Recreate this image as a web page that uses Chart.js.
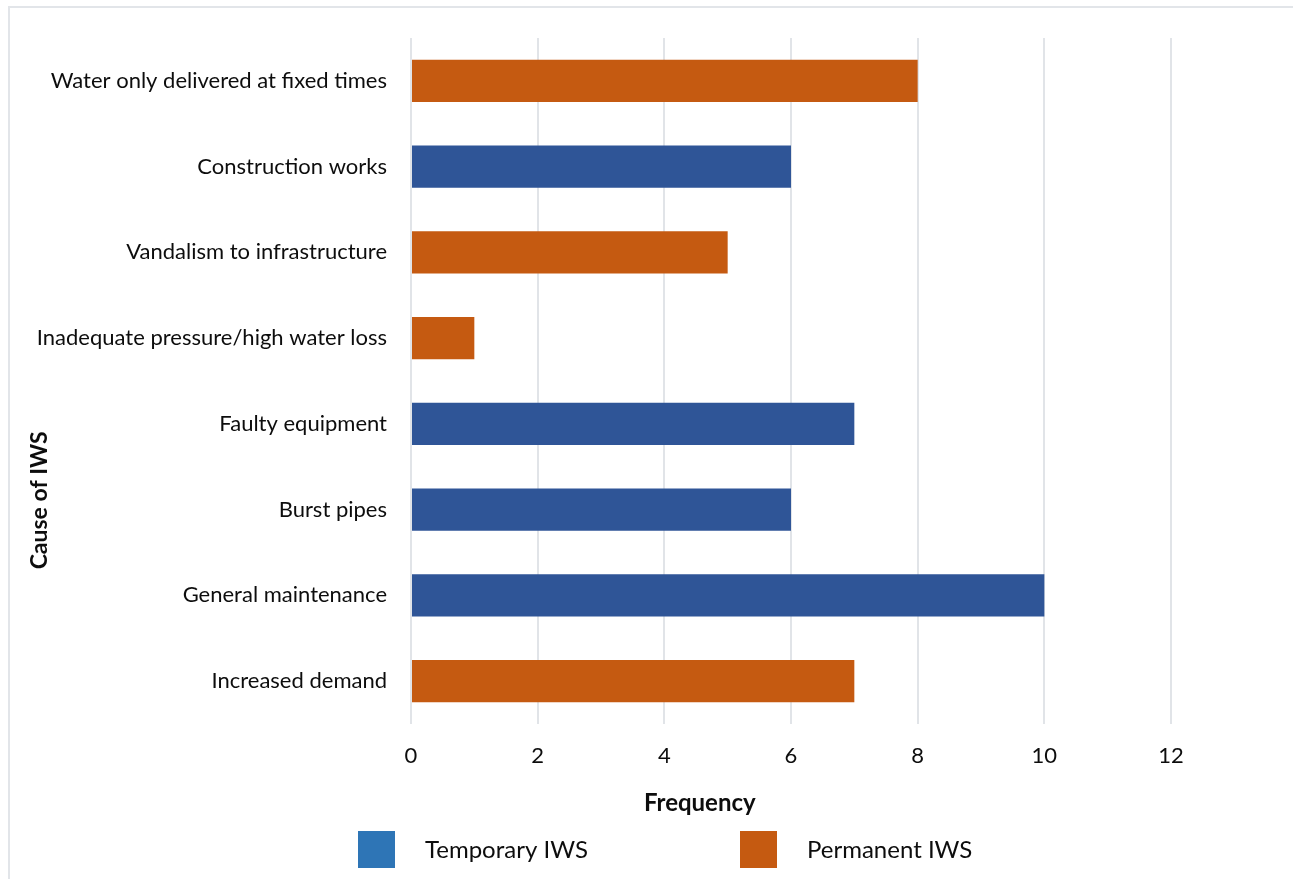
<!DOCTYPE html>
<html>
<head>
<meta charset="utf-8">
<script src="https://cdn.jsdelivr.net/npm/chart.js@4/dist/chart.umd.min.js"></script>
<style>
  html, body { margin: 0; padding: 0; background: #fff; overflow: hidden; }
  #frame { position: absolute; left: 8px; top: 6px; width: 1320px; height: 900px; border: 2px solid #e2e5e9; }
  #wrap { position: absolute; left: 0; top: 0; width: 1293px; height: 879px; }
</style>
</head>
<body>
<div id="frame"></div>
<div id="wrap"><canvas id="chart"></canvas></div>
<script>
const causes = [
  'Water only delivered at fixed times',
  'Construction works',
  'Vandalism to infrastructure',
  'Inadequate pressure/high water loss',
  'Faulty equipment',
  'Burst pipes',
  'General maintenance',
  'Increased demand'
]
const temporaryIWS = [null, 6, null, null, 7, 6, 10, null]
const permanentIWS = [8, null, 5, 1, null, null, null, 7]
const xTicks = [0, 2, 4, 6, 8, 10, 12]

const FONT = 'Lato, "Open Sans", sans-serif'
const TEXT = '#0d0d0d'

// legend swatches are a lighter blue than the bars themselves
const legendItems = [
  { text: 'Temporary IWS', color: '#2e75b6' },
  { text: 'Permanent IWS', color: '#c55a11' }
]

const extras = {
  id: 'extras',
  afterDraw(chart) {
    const ctx = chart.ctx
    const area = chart.chartArea
    ctx.save()
    ctx.fillStyle = TEXT
    ctx.textAlign = 'center'
    ctx.textBaseline = 'middle'

    // x axis title, sits left of the plot centre
    ctx.font = 'bold 24px ' + FONT
    ctx.fillText('Frequency', area.left + (area.right - area.left) * 0.38, area.bottom + 79)

    // y axis title, rotated
    ctx.font = 'bold 23px ' + FONT
    ctx.translate(40, area.top + (area.bottom - area.top) * 0.674)
    ctx.rotate(-Math.PI / 2)
    ctx.fillText('Cause of IWS', 0, 0)
    ctx.restore()

    // legend
    ctx.save()
    const box = 37
    const top = area.bottom + 107
    let x = 358
    ctx.font = '24px ' + FONT
    ctx.textBaseline = 'middle'
    legendItems.forEach(item => {
      ctx.fillStyle = item.color
      ctx.fillRect(x, top, box, box)
      ctx.fillStyle = TEXT
      ctx.fillText(item.text, x + box + 30, top + box / 2 + 1)
      x += 382
    })
    ctx.restore()
  }
}

const ctx = document.getElementById('chart').getContext('2d')
new Chart(ctx, {
  type: 'bar',
  data: {
    labels: causes,
    datasets: [
      {
        label: 'Temporary IWS',
        data: temporaryIWS,
        backgroundColor: '#2f5597',
        grouped: false,
        barPercentage: 0.49,
        categoryPercentage: 1
      },
      {
        label: 'Permanent IWS',
        data: permanentIWS,
        backgroundColor: '#c55a11',
        grouped: false,
        barPercentage: 0.49,
        categoryPercentage: 1
      }
    ]
  },
  options: {
    indexAxis: 'y',
    responsive: true,
    maintainAspectRatio: false,
    animation: false,
    layout: { padding: { left: 0, top: 38, right: 122, bottom: 59 } },
    plugins: {
      legend: { display: false },
      tooltip: { enabled: false }
    },
    scales: {
      x: {
        min: 0,
        max: 12,
        afterBuildTicks: axis => { axis.ticks = xTicks.map(v => ({ value: v })) },
        afterFit: axis => { axis.height = 96 },
        grid: { color: '#e1e4e8', lineWidth: 2, drawTicks: false },
        border: { display: false },
        ticks: { padding: 19, color: TEXT, font: { family: FONT, size: 22 } }
      },
      y: {
        afterFit: axis => { axis.width = 411 },
        grid: { display: false, drawTicks: false },
        border: { display: false },
        ticks: { padding: 24, color: TEXT, font: { family: FONT, size: 22 } }
      }
    }
  },
  plugins: [extras]
})
</script>
</body>
</html>
